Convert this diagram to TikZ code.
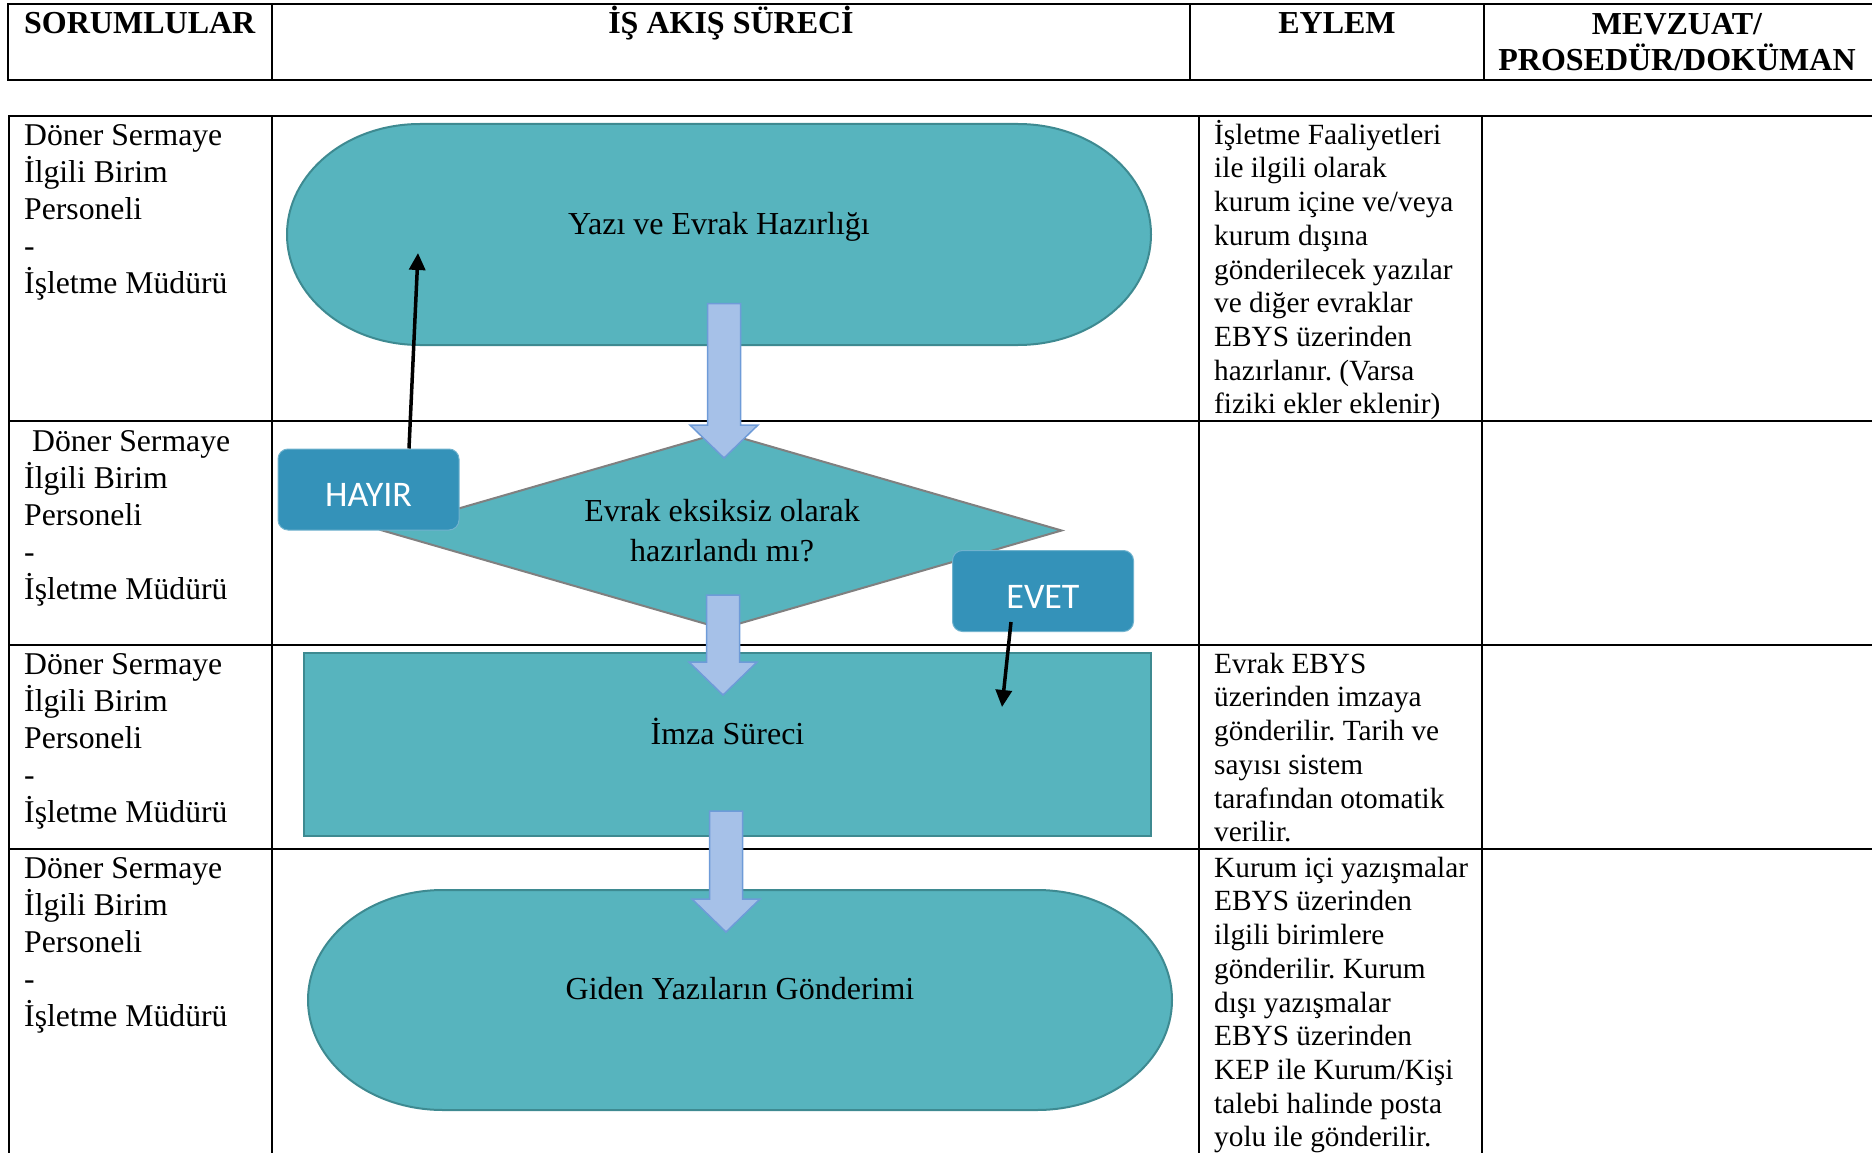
\documentclass[tikz,border=0pt]{standalone}
\usepackage{fontspec}
\setmainfont{Liberation Serif}
\newfontfamily\lblfont{Carlito}
\usetikzlibrary{shapes.geometric,calc,arrows.meta}
\definecolor{tealfill}{HTML}{57B4BE}
\definecolor{tealdraw}{HTML}{3E8A91}
\definecolor{lblfill}{HTML}{3492B9}
\definecolor{arrfill}{HTML}{A6C1E8}
\definecolor{arrdraw}{HTML}{6E9BD8}
\definecolor{dgray}{HTML}{808080}
\frenchspacing
\newcommand\blockarrow[2]{\draw[barrow] ($(#1)+(-16.5,0)$) -- ($(#1)+(16.5,0)$) -- ($(#2)+(16.5,-33)$) -- ($(#2)+(34,-33)$) -- (#2) -- ($(#2)+(-34,-33)$) -- ($(#2)+(-16.5,-33)$) -- cycle;}
\begin{document}
\frenchspacing
\begin{tikzpicture}[x=1pt,y=-1pt,
  hline/.style={line width=2pt},
  vline/.style={line width=1.2pt},
  hdr/.style={font=\fontsize{32}{36}\selectfont\bfseries, inner sep=0pt, align=center},
  cell/.style={inner sep=0pt, anchor=north west, align=left},
  resp/.style={cell, font=\fontsize{31.7}{37}\selectfont},
  act/.style={cell, font=\fontsize{29.3}{33.7}\selectfont},
  shapetxt/.style={font=\fontsize{32}{40.6}\selectfont, inner sep=0pt, align=center},
  lift/.style={text height=22pt, text depth=23pt},
  term/.style={fill=tealfill, draw=tealdraw, line width=2pt},
  lbl/.style={rounded corners=10pt, fill=lblfill, draw=lblfill!70!white, line width=1pt, text=white, font=\lblfont\fontsize{36}{40}\selectfont, minimum width=181pt, minimum height=81pt, inner sep=0pt, text height=34pt, text depth=0pt},
  barrow/.style={fill=arrfill, draw=arrdraw, line width=1.5pt, line join=miter},
  flowarrow/.style={line width=3.5pt, -{Triangle[length=17pt,width=16pt]}}
]
\useasboundingbox (0,0) rectangle (1872,1153);
% header table
\draw[hline] (7,4) -- (1872,4);
\draw[hline] (7,80) -- (1872,80);
\foreach \xx in {8,272,1190,1484} \draw[vline] (\xx,4) -- (\xx,80);
\node[hdr, anchor=base west] (h1) at (24,34) {SORUMLULAR};
\node[hdr, anchor=base] (h2) at (731,34) {İŞ AKIŞ SÜRECİ};
\node[hdr, anchor=base] (h3) at (1337,34) {EYLEM};
\node[hdr, anchor=north] (h4) at (1677,4) {\rule{0pt}{30pt}MEVZUAT/\\PROSEDÜR/DOKÜMAN};
% body table
\foreach \yy in {116,421,645,849} \draw[hline] (8,\yy) -- (1872,\yy);
\foreach \xx in {9,272,1199,1482} \draw[vline] (\xx,116) -- (\xx,1153);
% responsibles
\node[resp] (r1) at (24,115) {\rule{0pt}{30pt}Döner Sermaye\\İlgili Birim\\Personeli\\-\\İşletme Müdürü};
\node[resp] (r2) at (24,421) {\rule{0pt}{30pt}~Döner Sermaye\\İlgili Birim\\Personeli\\-\\İşletme Müdürü};
\node[resp] (r3) at (24,644) {\rule{0pt}{30pt}Döner Sermaye\\İlgili Birim\\Personeli\\-\\İşletme Müdürü};
\node[resp] (r4) at (24,848) {\rule{0pt}{30pt}Döner Sermaye\\İlgili Birim\\Personeli\\-\\İşletme Müdürü};
% actions
\node[act] (e1) at (1214,114) {\rule{0pt}{30pt}İşletme Faaliyetleri\\ile ilgili olarak\\kurum içine ve/veya\\kurum dışına\\gönderilecek yazılar\\ve diğer evraklar\\EBYS üzerinden\\hazırlanır. (Varsa\\fiziki ekler eklenir)};
\node[act] (e3) at (1214,643) {\rule{0pt}{30pt}Evrak EBYS\\üzerinden imzaya\\gönderilir. Tarih ve\\sayısı sistem\\tarafından otomatik\\verilir.};
\node[act] (e4) at (1214,847) {\rule{0pt}{30pt}Kurum içi yazışmalar\\EBYS üzerinden\\ilgili birimlere\\gönderilir. Kurum\\dışı yazışmalar\\EBYS üzerinden\\KEP ile Kurum/Kişi\\talebi halinde posta\\yolu ile gönderilir.};
% top terminator
\path[term] (420,124) -- (1018,124) .. controls (1091.5,124) and (1151,173.5) .. (1151,234.5) .. controls (1151,295.5) and (1091.5,345) .. (1018,345) -- (420,345) .. controls (346.5,345) and (287,295.5) .. (287,234.5) .. controls (287,173.5) and (346.5,124) .. (420,124) -- cycle;
\node[shapetxt, lift] (yazi) at (719,234.5) {Yazı ve Evrak Hazırlığı};
% decision
\node[diamond, aspect=3.45, draw=dgray, fill=tealfill, line width=2pt, minimum width=680pt, minimum height=197pt, shapetxt] (karar) at (722,530.5) {Evrak eksiksiz olarak\\hazırlandı mı?};
% process
\node[draw=tealdraw, fill=tealfill, line width=2pt, minimum width=847pt, minimum height=183pt, shapetxt, lift] (imza) at (727.5,744.5) {İmza Süreci};
% bottom terminator
\path[term] (443,890) -- (1037,890) .. controls (1111.6,890) and (1172,939.2) .. (1172,1000) .. controls (1172,1060.8) and (1111.6,1110) .. (1037,1110) -- (443,1110) .. controls (368.4,1110) and (308,1060.8) .. (308,1000) .. controls (308,939.2) and (368.4,890) .. (443,890) -- cycle;
\node[shapetxt, lift] (giden) at (740,1000) {Giden Yazıların Gönderimi};
% labels
\node[lbl] (hayir) at (368.5,489.5) {HAYIR};
\node[lbl] (evet) at (1043,591) {EVET};
% block arrows
\coordinate (a1s) at (724,303.5);
\coordinate (a1t) at (724,458);
\coordinate (a2s) at (723,595);
\coordinate (a2t) at (723,695);
\coordinate (a3s) at (726,811);
\coordinate (a3t) at (726,932);
\blockarrow{a1s}{a1t}
\blockarrow{a2s}{a2t}
\blockarrow{a3s}{a3t}
% black arrows
\coordinate (hayirend) at (418,253);
\coordinate (evetend) at (1002,707);
\draw[flowarrow] ($(hayir.north)+(40.5,0)$) -- (hayirend);
\draw[flowarrow] ($(evet.center)+(-32,31)$) -- (evetend);
\end{tikzpicture}
\end{document}
